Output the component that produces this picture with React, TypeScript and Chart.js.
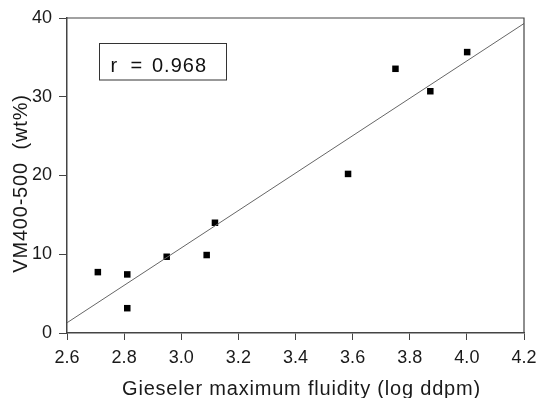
import React, { useEffect, useRef } from "react";
import { Chart, registerables } from "chart.js";

Chart.register(...registerables);

const fluidity = [2.708, 2.811, 2.811, 2.949, 3.089, 3.118, 3.584, 3.750, 3.872, 4.001];
const vm400500 = [7.73, 7.44, 3.15, 9.68, 9.9, 14.0, 20.2, 33.55, 30.7, 35.67];
const fitX = [2.6, 4.2];
const fitY = [1.3, 39.3];
const xTicks = [2.6, 2.8, 3.0, 3.2, 3.4, 3.6, 3.8, 4.0, 4.2];
const yTicks = [0, 10, 20, 30, 40];
const rLabelParts = ["r", "=", "0.968"];
const xTitle = "Gieseler maximum fluidity (log ddpm)";
const yTitle = "VM400-500  (wt%)";

const FONT = "'Liberation Sans', Arial, Helvetica, sans-serif";

const framePlugin = {
  id: "frame",
  afterDraw(chart: any) {
    const { ctx, chartArea } = chart;
    ctx.save();
    ctx.strokeStyle = "#444";
    ctx.lineWidth = 1.2;
    ctx.beginPath();
    ctx.moveTo(chartArea.left, chartArea.top);
    ctx.lineTo(chartArea.right, chartArea.top);
    ctx.lineTo(chartArea.right, chartArea.bottom);
    ctx.stroke();

    // r label box
    const bx = chartArea.left + 32.5;
    const by = chartArea.top + 25.5;
    const bw = 127;
    const bh = 36.5;
    ctx.fillStyle = "#fff";
    ctx.fillRect(bx, by, bw, bh);
    ctx.strokeStyle = "#333";
    ctx.lineWidth = 1;
    ctx.strokeRect(bx, by, bw, bh);
    ctx.fillStyle = "#111";
    ctx.font = `20px ${FONT}`;
    (ctx as any).letterSpacing = "1px";
    ctx.textAlign = "left";
    ctx.textBaseline = "alphabetic";
    const base = by + 28;
    const offs = [11, 31, 52.5];
    rLabelParts.forEach((t, i) => ctx.fillText(t, bx + offs[i], base));

    // axis titles
    ctx.font = `20px ${FONT}`;
    (ctx as any).letterSpacing = "0.8px";
    ctx.fillStyle = "#1a1a1a";
    ctx.textAlign = "center";
    ctx.fillText(xTitle, (chartArea.left + chartArea.right) / 2 + 6, 395);
    ctx.translate(27, (chartArea.top + chartArea.bottom) / 2 + 8);
    ctx.rotate(-Math.PI / 2);
    ctx.fillText(yTitle, 0, 0);
    ctx.restore();
  },
};

export default function App() {
  const ref = useRef<HTMLCanvasElement>(null);
  useEffect(() => {
    if (!ref.current) return;
    const chart = new Chart(ref.current, {
      type: "scatter",
      data: {
        datasets: [
          {
            type: "line",
            data: fitX.map((x, i) => ({ x, y: fitY[i] })),
            borderColor: "#666",
            borderWidth: 1,
            pointRadius: 0,
            fill: false,
          } as any,
          {
            data: fluidity.map((x, i) => ({ x, y: vm400500[i] })),
            pointStyle: "rect",
            pointRadius: 4.6,
            backgroundColor: "#000",
            borderColor: "#000",
            borderWidth: 0,
          },
        ],
      },
      options: {
        responsive: false,
        animation: false,
        layout: { padding: { top: 18, right: 14, left: 0, bottom: 0 } },
        plugins: { legend: { display: false }, tooltip: { enabled: false } },
        scales: {
          x: {
            type: "linear",
            min: 2.6,
            max: 4.2,
            afterBuildTicks: (s: any) => {
              s.ticks = xTicks.map((v) => ({ value: v }));
            },
            afterFit: (s: any) => {
              s.height = 65;
              s.paddingLeft = 0;
              s.paddingRight = 0;
            },
            ticks: {
              color: "#1a1a1a",
              font: { family: FONT, size: 18 },
              padding: 7,
              maxRotation: 0,
              callback: (v: any) => Number(v).toFixed(1),
            },
            grid: { drawOnChartArea: false, drawTicks: true, tickLength: 7, color: "#444" },
            border: { color: "#444", width: 1.5 },
          },
          y: {
            type: "linear",
            min: 0,
            max: 40,
            afterBuildTicks: (s: any) => {
              s.ticks = yTicks.map((v) => ({ value: v }));
            },
            afterFit: (s: any) => {
              s.width = 67;
              s.paddingTop = 0;
              s.paddingBottom = 0;
            },
            ticks: {
              color: "#1a1a1a",
              font: { family: FONT, size: 18 },
              padding: 7,
            },
            grid: { drawOnChartArea: false, drawTicks: true, tickLength: 8, color: "#444" },
            border: { color: "#444", width: 1.5 },
          },
        },
      },
      plugins: [framePlugin],
    });
    return () => chart.destroy();
  }, []);
  return (
    <div style={{ position: "absolute", left: 0, top: 0, width: 538, height: 398, background: "#fff" }}>
      <canvas ref={ref} width={538} height={398} style={{ width: 538, height: 398 }} />
    </div>
  );
}
